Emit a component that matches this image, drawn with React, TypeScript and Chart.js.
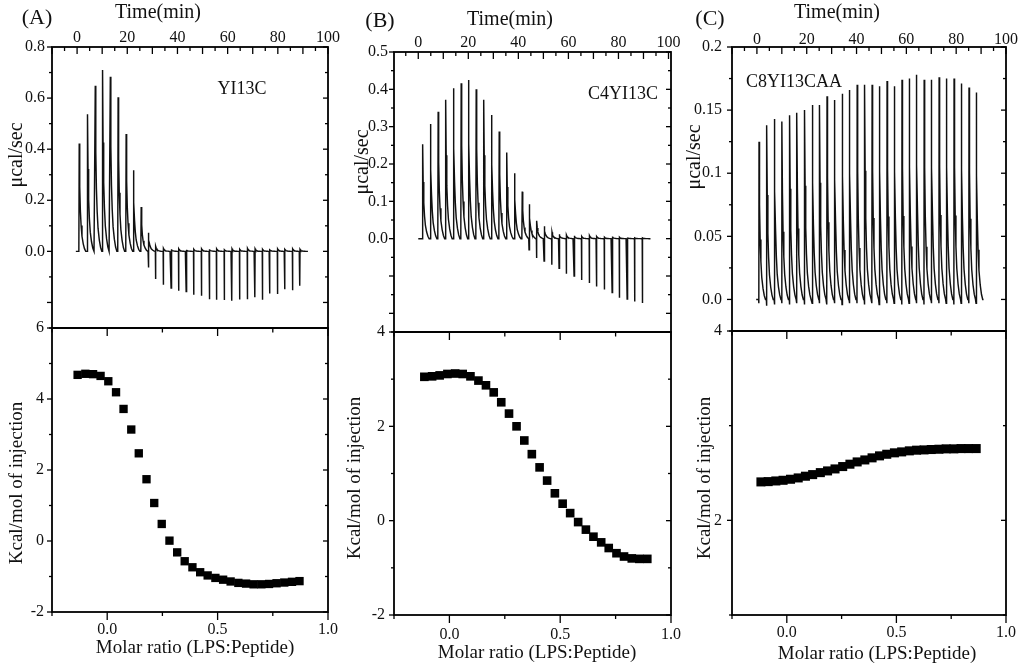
import React, { useEffect, useRef } from 'react';
import { Chart, registerables } from 'chart.js';

Chart.register(...registerables);

const FONT_FAMILY = "'Liberation Serif', 'Times New Roman', Times, serif";
const INK = '#111111';

// ---------------- Panel A : YI13C ----------------
const A_INJ_TIME = [0.8, 4.1, 7.2, 10.1, 13.2, 16.3, 19.5, 22.4, 25.5, 28.4, 31.3, 34.4, 37.5, 40.5, 43.5, 46.5, 49.6, 52.7, 55.6, 58.7, 61.7, 64.8, 67.9, 70.9, 73.9, 76.8, 79.9, 82.8, 85.9, 88.8];
const A_PEAK_UP = [0.422, 0.537, 0.648, 0.71, 0.684, 0.603, 0.459, 0.318, 0.174, 0.073, 0.02, 0.012, 0.008, 0.01, 0.006, 0.008, 0.01, 0.008, 0.01, 0.006, 0.01, 0.008, 0.012, 0.01, 0.008, 0.006, 0.01, 0.008, 0.01, 0.008];
const A_PEAK_DOWN = [0, 0, 0, 0, 0, 0, 0, 0, 0, -0.063, -0.108, -0.131, -0.144, -0.154, -0.157, -0.17, -0.174, -0.187, -0.189, -0.19, -0.193, -0.188, -0.187, -0.18, -0.189, -0.165, -0.167, -0.148, -0.152, -0.135];
const A_RATIO = [-0.134, -0.099, -0.064, -0.03, 0.005, 0.04, 0.074, 0.109, 0.143, 0.178, 0.213, 0.247, 0.282, 0.317, 0.351, 0.386, 0.421, 0.455, 0.49, 0.525, 0.559, 0.594, 0.629, 0.663, 0.698, 0.733, 0.767, 0.802, 0.837, 0.871];
const A_KCAL = [4.68, 4.71, 4.7, 4.65, 4.5, 4.19, 3.72, 3.14, 2.47, 1.74, 1.07, 0.48, 0.01, -0.32, -0.57, -0.74, -0.88, -0.97, -1.04, -1.09, -1.14, -1.18, -1.2, -1.22, -1.22, -1.21, -1.19, -1.17, -1.15, -1.13];
const A_RATE_TICK_LABELS = [0, 0.2, 0.4, 0.6, 0.8];
const A_KCAL_TICK_LABELS = [-2, 0, 2, 4, 6];

// ---------------- Panel B : C4YI13C ----------------
const B_INJ_TIME = [1.7, 4.8, 7.9, 10.9, 14.0, 17.1, 20.0, 23.1, 26.1, 29.2, 32.3, 35.3, 38.4, 41.5, 44.3, 47.3, 50.3, 53.4, 56.3, 59.2, 62.3, 65.3, 68.4, 71.3, 74.4, 77.5, 80.4, 83.5, 86.5, 89.6];
const B_PEAK_UP = [0.253, 0.307, 0.34, 0.372, 0.403, 0.416, 0.425, 0.4, 0.372, 0.331, 0.287, 0.231, 0.175, 0.126, 0.092, 0.048, 0.033, 0.017, 0.012, 0.01, 0.008, 0.006, 0.008, 0.006, 0.004, 0.006, 0.004, 0.003, 0.002, 0.002];
const B_PEAK_DOWN = [0, 0, 0, 0, 0, 0, 0, 0, 0, 0, 0, 0, 0, 0, -0.03, -0.052, -0.06, -0.07, -0.079, -0.094, -0.1, -0.111, -0.119, -0.128, -0.136, -0.144, -0.158, -0.162, -0.168, -0.172];
const B_RATIO = [-0.113, -0.078, -0.044, -0.009, 0.026, 0.06, 0.095, 0.131, 0.165, 0.2, 0.234, 0.269, 0.303, 0.338, 0.372, 0.407, 0.441, 0.476, 0.511, 0.545, 0.581, 0.616, 0.65, 0.685, 0.719, 0.754, 0.788, 0.823, 0.857, 0.893];
const B_KCAL = [3.05, 3.06, 3.08, 3.11, 3.12, 3.11, 3.06, 2.97, 2.87, 2.72, 2.51, 2.27, 2.0, 1.7, 1.41, 1.13, 0.85, 0.58, 0.36, 0.16, -0.03, -0.19, -0.34, -0.46, -0.58, -0.69, -0.76, -0.8, -0.81, -0.81];
const B_RATE_TICK_LABELS = [0, 0.1, 0.2, 0.3, 0.4, 0.5];
const B_KCAL_TICK_LABELS = [-2, 0, 2, 4];

// ---------------- Panel C : C8YI13CAA ----------------
const C_INJ_TIME = [0.8, 3.9, 7.0, 10.0, 13.1, 16.0, 19.1, 22.2, 25.1, 28.1, 31.1, 34.2, 37.1, 40.2, 43.2, 46.2, 49.1, 52.2, 55.1, 58.2, 61.1, 64.0, 67.1, 70.0, 73.1, 76.0, 79.1, 82.0, 85.1, 88.0];
const C_PEAK_UP = [0.125, 0.138, 0.143, 0.141, 0.146, 0.148, 0.15, 0.154, 0.154, 0.161, 0.158, 0.163, 0.166, 0.17, 0.17, 0.17, 0.169, 0.173, 0.169, 0.174, 0.175, 0.178, 0.174, 0.174, 0.176, 0.175, 0.175, 0.171, 0.168, 0.164];
const C_PEAK_DOWN = [-0.003, -0.005, -0.004, -0.003, -0.004, -0.003, -0.004, -0.003, -0.003, -0.004, -0.003, -0.004, -0.003, -0.003, -0.004, -0.003, -0.004, -0.003, -0.003, -0.004, -0.003, -0.003, -0.004, -0.003, -0.003, -0.003, -0.004, -0.003, -0.003, -0.003];
const C_RATIO = [-0.118, -0.085, -0.05, -0.017, 0.017, 0.052, 0.085, 0.118, 0.153, 0.186, 0.220, 0.255, 0.288, 0.321, 0.356, 0.389, 0.423, 0.456, 0.491, 0.524, 0.559, 0.592, 0.626, 0.659, 0.694, 0.727, 0.762, 0.795, 0.829, 0.864];
const C_KCAL = [2.406, 2.409, 2.416, 2.423, 2.434, 2.448, 2.466, 2.483, 2.504, 2.522, 2.543, 2.568, 2.593, 2.617, 2.638, 2.66, 2.681, 2.698, 2.713, 2.723, 2.734, 2.741, 2.744, 2.748, 2.751, 2.755, 2.755, 2.758, 2.758, 2.758];
const C_RATE_TICK_LABELS = [0, 0.05, 0.1, 0.15, 0.2];
const C_KCAL_TICK_LABELS = [2, 4];

// shared axes
const TIME_TICK_LABELS = [0, 20, 40, 60, 80, 100];
const RATIO_TICK_LABELS = [0, 0.5, 1.0];

// shape template of one injection peak (minutes after the peak, fraction of peak height)
const PEAK_DECAY = [[0.2, 0.6], [0.45, 0.38], [0.75, 0.24], [1.1, 0.14], [1.6, 0.07], [2.1, 0.025], [2.6, 0]];

function buildTrace(times: number[], up: number[], down: number[], start: number, end: number) {
  const pts: { x: number; y: number }[] = [{ x: start, y: 0 }];
  times.forEach((t, i) => {
    pts.push({ x: t - 0.1, y: 0 });
    if (down[i] < 0) pts.push({ x: t - 0.03, y: down[i] });
    pts.push({ x: t + 0.05, y: up[i] });
    PEAK_DECAY.forEach(([dt, f]) => pts.push({ x: t + 0.05 + dt, y: up[i] * f }));
  });
  pts.push({ x: end, y: 0 });
  return pts;
}

function zip(xs: number[], ys: number[]) {
  return xs.map((x, i) => ({ x, y: ys[i] }));
}

type TickSpec = {
  scale: string; side: 'top' | 'bottom' | 'left' | 'right';
  min: number; max: number; step: number; majorEvery: number;
  dir: number; majorLen: number; minorLen: number;
};
type TextSpec = { text: string; x: number; y: number; size: number; rot?: boolean };

const framePlugin = {
  id: 'frame',
  afterDraw(chart: any, _args: any, opts: any) {
    const { ctx, chartArea: a } = chart;
    ctx.save();
    ctx.strokeStyle = '#000';
    ctx.lineWidth = 1.3;
    (opts.ticks || []).forEach((t: TickSpec) => {
      const scale = chart.scales[t.scale];
      const n0 = Math.ceil(t.min / t.step - 1e-6);
      const n1 = Math.floor(t.max / t.step + 1e-6);
      for (let n = n0; n <= n1; n++) {
        const p = scale.getPixelForValue(n * t.step);
        const len = (n % t.majorEvery === 0 ? t.majorLen : t.minorLen) * t.dir;
        ctx.beginPath();
        if (t.side === 'top') { ctx.moveTo(p, a.top); ctx.lineTo(p, a.top - len); }
        if (t.side === 'bottom') { ctx.moveTo(p, a.bottom); ctx.lineTo(p, a.bottom + len); }
        if (t.side === 'left') { ctx.moveTo(a.left, p); ctx.lineTo(a.left - len, p); }
        if (t.side === 'right') { ctx.moveTo(a.right, p); ctx.lineTo(a.right + len, p); }
        ctx.stroke();
      }
    });
    ctx.lineWidth = 1.8;
    ctx.strokeRect(a.left, a.top, a.right - a.left, a.bottom - a.top);
    ctx.fillStyle = INK;
    ctx.textAlign = 'center';
    ctx.textBaseline = 'middle';
    (opts.texts || []).forEach((tx: TextSpec) => {
      ctx.save();
      ctx.font = `${tx.size}px ${FONT_FAMILY}`;
      ctx.translate(tx.x - opts.ox, tx.y - opts.oy);
      if (tx.rot) ctx.rotate(-Math.PI / 2);
      ctx.fillText(tx.text, 0, 0);
      ctx.restore();
    });
    ctx.restore();
  },
};

type Panel = {
  cx0: number; cw: number; L: number; R: number; topT: number; mid: number; botB: number;
  time: number[]; up: number[]; down: number[]; traceStart: number; traceEnd: number;
  timeMin: number; timeMax: number; timePad: number;
  rateMin: number; rateMax: number; rateStep: number; rateTicks: number[]; rateFmt: (v: number) => string; ratePad: number;
  ratio: number[]; kcal: number[]; kcalMin: number; kcalMax: number; kcalTicks: number[]; kcalPad: number; ratioPad: number;
  pointR: number;
  topTexts: TextSpec[]; bottomTexts: TextSpec[];
};

const tickFont = { family: FONT_FAMILY, size: 16 };

const PANELS: Panel[] = [
  {
    cx0: 0, cw: 345, L: 52, R: 328, topT: 47, mid: 328, botB: 612,
    time: A_INJ_TIME, up: A_PEAK_UP, down: A_PEAK_DOWN, traceStart: -0.5, traceEnd: 92,
    timeMin: -10, timeMax: 100, timePad: 0,
    rateMin: -0.3, rateMax: 0.8, rateStep: 0.1, rateTicks: A_RATE_TICK_LABELS, rateFmt: (v) => v.toFixed(1), ratePad: 7,
    ratio: A_RATIO, kcal: A_KCAL, kcalMin: -2, kcalMax: 6, kcalTicks: A_KCAL_TICK_LABELS, kcalPad: 8, ratioPad: 8,
    pointR: 5.9,
    topTexts: [
      { text: '(A)', x: 37, y: 18, size: 22 },
      { text: 'Time(min)', x: 158, y: 13, size: 20 },
      { text: 'μcal/sec', x: 17, y: 155, size: 20, rot: true },
      { text: 'YI13C', x: 242, y: 89, size: 18 },
    ],
    bottomTexts: [
      { text: 'Kcal/mol of injection', x: 17, y: 483, size: 19, rot: true },
      { text: 'Molar ratio (LPS:Peptide)', x: 195, y: 648, size: 19 },
    ],
  },
  {
    cx0: 340, cw: 350, L: 394, R: 671, topT: 52, mid: 332, botB: 615,
    time: B_INJ_TIME, up: B_PEAK_UP, down: B_PEAK_DOWN, traceStart: 0, traceEnd: 92.8,
    timeMin: -9.7, timeMax: 101, timePad: 0,
    rateMin: -0.25, rateMax: 0.5, rateStep: 0.05, rateTicks: B_RATE_TICK_LABELS, rateFmt: (v) => v.toFixed(1), ratePad: 6,
    ratio: B_RATIO, kcal: B_KCAL, kcalMin: -2, kcalMax: 4, kcalTicks: B_KCAL_TICK_LABELS, kcalPad: 9, ratioPad: 10,
    pointR: 6.1,
    topTexts: [
      { text: '(B)', x: 380, y: 21, size: 22 },
      { text: 'Time(min)', x: 510, y: 20, size: 20 },
      { text: 'μcal/sec', x: 363, y: 162, size: 20, rot: true },
      { text: 'C4YI13C', x: 623, y: 94, size: 18 },
    ],
    bottomTexts: [
      { text: 'Kcal/mol of injection', x: 355, y: 478, size: 19, rot: true },
      { text: 'Molar ratio (LPS:Peptide)', x: 537, y: 653, size: 19 },
    ],
  },
  {
    cx0: 680, cw: 344, L: 732, R: 1006, topT: 47, mid: 331, botB: 615,
    time: C_INJ_TIME, up: C_PEAK_UP, down: C_PEAK_DOWN, traceStart: -0.3, traceEnd: 91,
    timeMin: -10, timeMax: 100, timePad: -2,
    rateMin: -0.025, rateMax: 0.2, rateStep: 0.025, rateTicks: C_RATE_TICK_LABELS, rateFmt: (v) => (v === 0 ? '0.0' : String(v)), ratePad: 10,
    ratio: C_RATIO, kcal: C_KCAL, kcalMin: 1, kcalMax: 4, kcalTicks: C_KCAL_TICK_LABELS, kcalPad: 10, ratioPad: 8,
    pointR: 6.4,
    topTexts: [
      { text: '(C)', x: 710, y: 19, size: 22 },
      { text: 'Time(min)', x: 837, y: 13, size: 20 },
      { text: 'μcal/sec', x: 695, y: 157, size: 20, rot: true },
      { text: 'C8YI13CAA', x: 794, y: 82, size: 18 },
    ],
    bottomTexts: [
      { text: 'Kcal/mol of injection', x: 705, y: 478, size: 19, rot: true },
      { text: 'Molar ratio (LPS:Peptide)', x: 877, y: 654, size: 19 },
    ],
  },
];

function topConfig(p: Panel, oy: number): any {
  return {
    type: 'scatter',
    data: {
      datasets: [{
        data: buildTrace(p.time, p.up, p.down, p.traceStart, p.traceEnd),
        showLine: true, borderColor: INK, borderWidth: 1.45, pointRadius: 0, pointHoverRadius: 0, tension: 0, fill: false,
      }],
    },
    options: {
      responsive: false, animation: false, events: [],
      layout: { padding: { left: 0, top: 0, right: p.cw - (p.R - p.cx0), bottom: 20 } },
      plugins: {
        legend: { display: false }, tooltip: { enabled: false },
        frame: {
          ox: p.cx0, oy,
          texts: p.topTexts,
          ticks: [
            { scale: 'x', side: 'top', min: p.timeMin, max: p.timeMax, step: 5, majorEvery: 2, dir: -1, majorLen: 7, minorLen: 4 },
            { scale: 'y', side: 'left', min: p.rateMin, max: p.rateMax, step: p.rateStep, majorEvery: 2, dir: 1, majorLen: 5, minorLen: 3 },
            { scale: 'y', side: 'right', min: p.rateMin, max: p.rateMax, step: p.rateStep, majorEvery: 2, dir: -1, majorLen: 5, minorLen: 3 },
          ],
        },
      },
      scales: {
        x: {
          type: 'linear', position: 'top', min: p.timeMin, max: p.timeMax,
          grid: { display: false, drawTicks: false }, border: { display: false },
          afterBuildTicks: (s: any) => { s.ticks = TIME_TICK_LABELS.map((v) => ({ value: v })); },
          afterFit: (s: any) => { s.height = p.topT; s.paddingLeft = 0; s.paddingRight = 0; },
          ticks: { font: tickFont, color: INK, padding: p.timePad, maxRotation: 0, autoSkip: false, callback: (v: any) => String(v) },
        },
        y: {
          type: 'linear', position: 'left', min: p.rateMin, max: p.rateMax,
          grid: { display: false, drawTicks: false }, border: { display: false },
          afterBuildTicks: (s: any) => { s.ticks = p.rateTicks.map((v) => ({ value: v })); },
          afterFit: (s: any) => { s.width = p.L - p.cx0; s.paddingTop = 0; s.paddingBottom = 0; },
          ticks: { font: tickFont, color: INK, padding: p.ratePad, autoSkip: false, callback: (v: any) => p.rateFmt(Number(v)) },
        },
      },
    },
    plugins: [framePlugin],
  };
}

function bottomConfig(p: Panel, oy: number): any {
  return {
    type: 'scatter',
    data: {
      datasets: [{
        data: zip(p.ratio, p.kcal),
        pointStyle: 'rect', pointRadius: p.pointR, pointHoverRadius: p.pointR,
        backgroundColor: '#000', borderColor: '#000', borderWidth: 0,
      }],
    },
    options: {
      responsive: false, animation: false, events: [],
      layout: { padding: { left: 0, top: 20, right: p.cw - (p.R - p.cx0), bottom: 0 } },
      plugins: {
        legend: { display: false }, tooltip: { enabled: false },
        frame: {
          ox: p.cx0, oy,
          texts: p.bottomTexts,
          ticks: [
            { scale: 'x', side: 'top', min: -0.25, max: 1.0, step: 0.25, majorEvery: 2, dir: -1, majorLen: 8, minorLen: 4.5 },
            { scale: 'x', side: 'bottom', min: -0.25, max: 1.0, step: 0.25, majorEvery: 2, dir: 1, majorLen: 8, minorLen: 4 },
            { scale: 'y', side: 'left', min: p.kcalMin, max: p.kcalMax, step: 1, majorEvery: 2, dir: 1, majorLen: 5, minorLen: 3 },
            { scale: 'y', side: 'right', min: p.kcalMin, max: p.kcalMax, step: 1, majorEvery: 2, dir: -1, majorLen: 5, minorLen: 3 },
          ],
        },
      },
      scales: {
        x: {
          type: 'linear', position: 'bottom', min: -0.25, max: 1.0,
          grid: { display: false, drawTicks: false }, border: { display: false },
          afterBuildTicks: (s: any) => { s.ticks = RATIO_TICK_LABELS.map((v) => ({ value: v })); },
          afterFit: (s: any) => { s.height = 670 - p.botB; s.paddingLeft = 0; s.paddingRight = 0; },
          ticks: { font: tickFont, color: INK, padding: p.ratioPad, maxRotation: 0, autoSkip: false, callback: (v: any) => Number(v).toFixed(1) },
        },
        y: {
          type: 'linear', position: 'left', min: p.kcalMin, max: p.kcalMax,
          grid: { display: false, drawTicks: false }, border: { display: false },
          afterBuildTicks: (s: any) => { s.ticks = p.kcalTicks.map((v) => ({ value: v })); },
          afterFit: (s: any) => { s.width = p.L - p.cx0; s.paddingTop = 0; s.paddingBottom = 0; },
          ticks: { font: tickFont, color: INK, padding: p.kcalPad, autoSkip: false, callback: (v: any) => String(v) },
        },
      },
    },
    plugins: [framePlugin],
  };
}

function ChartCanvas({ left, top, width, height, make }: { left: number; top: number; width: number; height: number; make: () => any }) {
  const ref = useRef<HTMLCanvasElement>(null);
  useEffect(() => {
    const chart = new Chart(ref.current as HTMLCanvasElement, make());
    return () => chart.destroy();
  }, []);
  return (
    <canvas
      ref={ref}
      width={width}
      height={height}
      style={{ position: 'absolute', left, top, width, height, display: 'block' }}
    />
  );
}

export default function App() {
  return (
    <div style={{ position: 'absolute', left: 0, top: 0, width: 1024, height: 670, overflow: 'hidden', background: '#fff' }}>
      {PANELS.map((p, i) => (
        <React.Fragment key={i}>
          <ChartCanvas left={p.cx0} top={0} width={p.cw} height={p.mid + 20} make={() => topConfig(p, 0)} />
          <ChartCanvas left={p.cx0} top={p.mid - 20} width={p.cw} height={670 - (p.mid - 20)} make={() => bottomConfig(p, p.mid - 20)} />
        </React.Fragment>
      ))}
    </div>
  );
}
